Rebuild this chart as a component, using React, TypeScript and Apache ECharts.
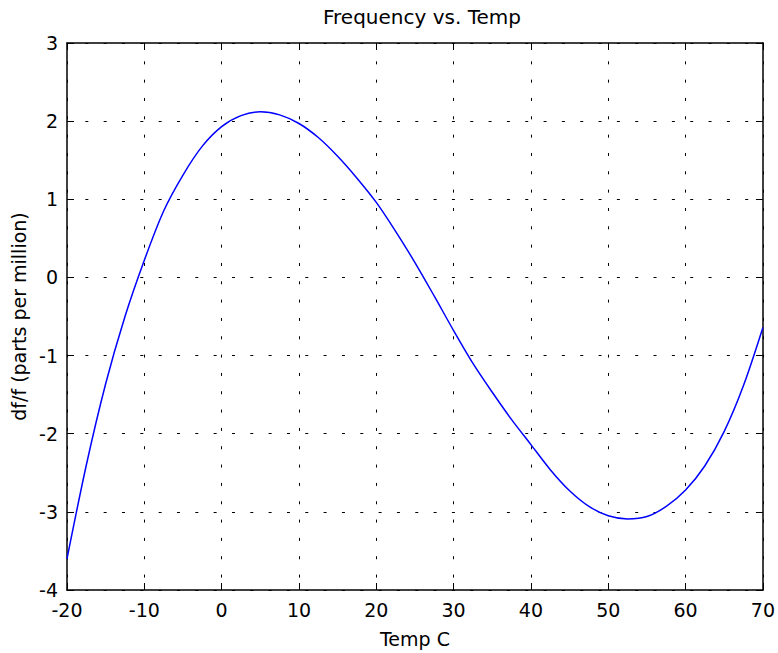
import React, { useEffect, useRef } from "react";
import * as echarts from "echarts";

const chartTitle = "Frequency vs. Temp";
const xAxisName = "Temp C";
const yAxisName = "df/f (parts per million)";

const xRange = [-20, 70];
const xStep = 10;
const yRange = [-4, 3];
const yStep = 1;

const temps = [
  -20, -17.5, -15, -12.5, -10, -7.5, -5, -2.5, 0, 2.5, 5, 7.5, 10, 12.5, 15,
  17.5, 20, 22.5, 25, 27.5, 30, 32.5, 35, 37.5, 40, 42.5, 45, 47.5, 50, 52.5,
  55, 57.5, 60, 62.5, 65, 67.5, 70,
];
const dfValues = [
  -3.6, -2.4, -1.36, -0.5, 0.22, 0.85, 1.31, 1.68, 1.93, 2.07, 2.12, 2.08,
  1.97, 1.79, 1.55, 1.27, 0.96, 0.59, 0.19, -0.24, -0.68, -1.1, -1.47, -1.82,
  -2.14, -2.46, -2.73, -2.93, -3.05, -3.09, -3.06, -2.93, -2.72, -2.41, -1.97,
  -1.38, -0.64,
];

const FONT = "DejaVu Sans";

export default function App() {
  const ref = useRef<HTMLDivElement>(null);
  useEffect(() => {
    if (!ref.current) return;
    const chart = echarts.init(ref.current, undefined, { renderer: "svg" });
    const gridDash = {
      show: true,
      lineStyle: { color: "#000", width: 1, type: [3, 15.33] as any },
    };
    const axisLine = { show: true, onZero: false, lineStyle: { color: "#000", width: 1.5 } };
    const tick = { show: true, inside: true, length: 7, lineStyle: { color: "#000", width: 1 } };
    const label = { color: "#000", fontFamily: FONT, fontSize: 19 };
    chart.setOption({
      animation: false,
      backgroundColor: "#fff",
      title: {
        text: chartTitle,
        left: 417,
        top: 2,
        textAlign: "center",
        textStyle: { color: "#000", fontFamily: FONT, fontSize: 20, fontWeight: "normal" },
      },
      grid: { left: 67, right: 11, top: 43, bottom: 60, containLabel: false },
      xAxis: [
        {
          type: "value",
          min: xRange[0],
          max: xRange[1],
          interval: xStep,
          position: "bottom",
          name: xAxisName,
          nameLocation: "middle",
          nameGap: 39,
          nameTextStyle: { color: "#000", fontFamily: FONT, fontSize: 19 },
          axisLine,
          axisTick: tick,
          axisLabel: { ...label, margin: 10 },
          splitLine: gridDash,
        },
        {
          type: "value",
          min: xRange[0],
          max: xRange[1],
          interval: xStep,
          position: "top",
          axisLine,
          axisTick: tick,
          axisLabel: { show: false },
          splitLine: { show: false },
        },
      ],
      yAxis: [
        {
          type: "value",
          min: yRange[0],
          max: yRange[1],
          interval: yStep,
          position: "left",
          name: yAxisName,
          nameLocation: "middle",
          nameGap: 34,
          nameRotate: 90,
          nameTextStyle: { color: "#000", fontFamily: FONT, fontSize: 19 },
          axisLine,
          axisTick: tick,
          axisLabel: { ...label, margin: 9 },
          splitLine: gridDash,
        },
        {
          type: "value",
          min: yRange[0],
          max: yRange[1],
          interval: yStep,
          position: "right",
          axisLine,
          axisTick: tick,
          axisLabel: { show: false },
          splitLine: { show: false },
        },
      ],
      series: [
        {
          type: "line",
          data: temps.map((t, i) => [t, dfValues[i]]),
          smooth: 0.3,
          symbol: "none",
          lineStyle: { color: "#0000ff", width: 1.5 },
          xAxisIndex: 0,
          yAxisIndex: 0,
        },
      ],
    });
    return () => chart.dispose();
  }, []);
  return (
    <div
      ref={ref}
      style={{ position: "absolute", left: 0, top: 0, width: 778, height: 653 }}
    />
  );
}
